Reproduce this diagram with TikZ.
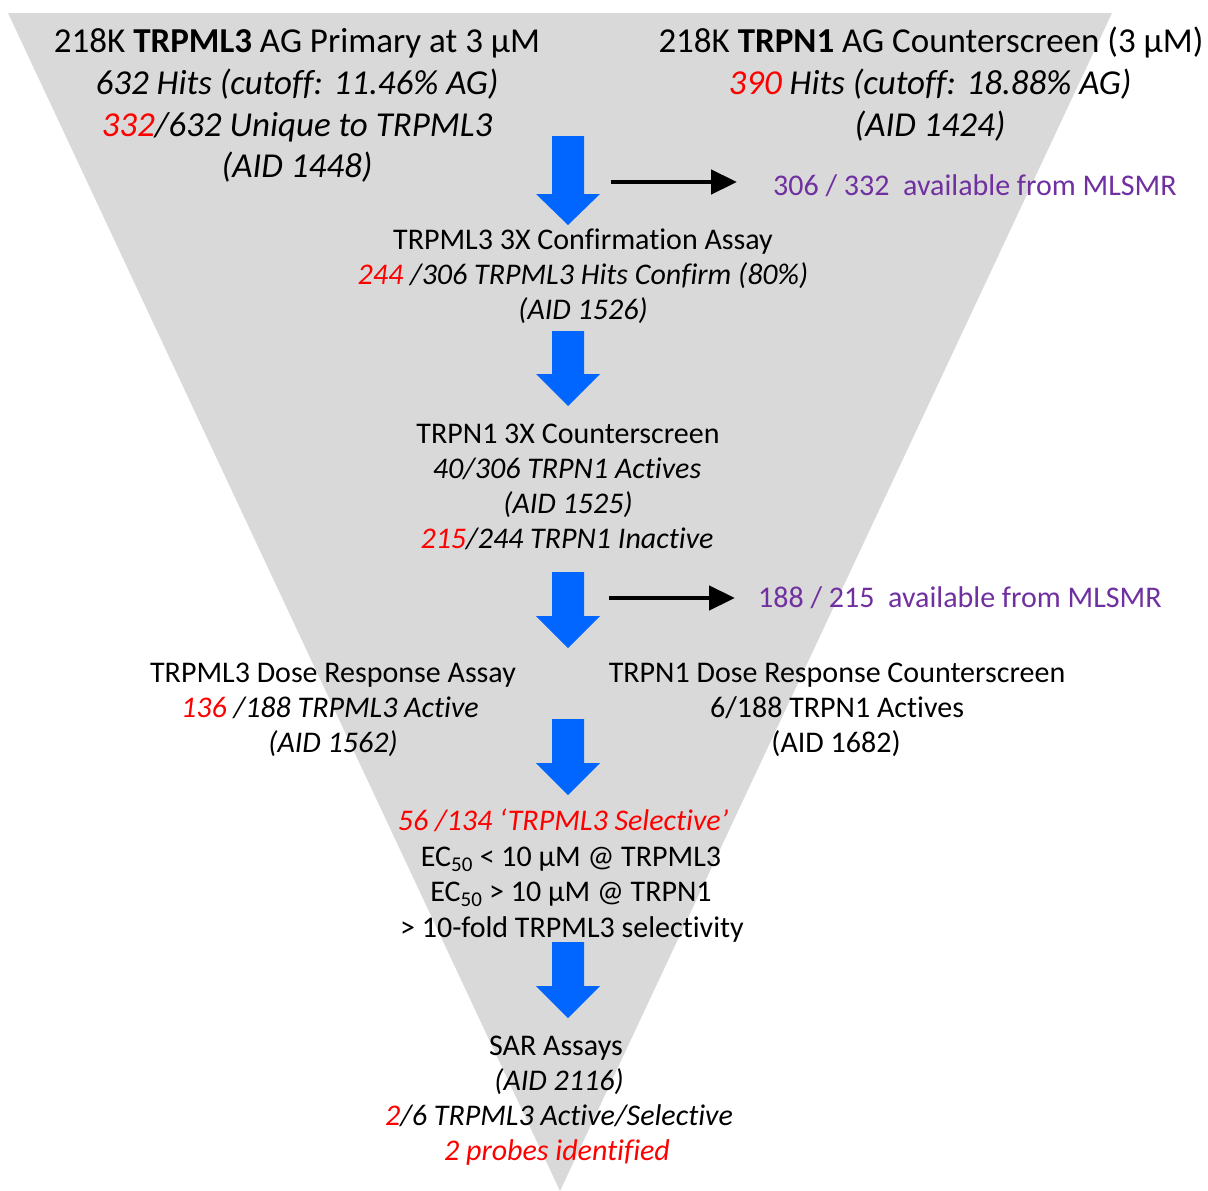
\documentclass[tikz,border=0pt]{standalone}
\usepackage{fontspec}
\setmainfont{Carlito}[Ligatures={TeX,NoCommon}]
\usetikzlibrary{arrows.meta}
\definecolor{funnelgray}{HTML}{D9D9D9}
\definecolor{fatblue}{HTML}{0066FF}
\definecolor{mlpurple}{HTML}{7030A0}
\definecolor{hitred}{HTML}{FF0000}
\newcommand\fatdown[4]{%
  \fill[fatblue] (#1-16,#2) -- (#1+16,#2) -- (#1+16,#3) -- (#1+32,#3) -- (#1,#4)
    -- (#1-32,#3) -- (#1-16,#3) -- cycle;}
\newcommand\hr[1]{{\color{hitred}#1}}
\tikzset{
  bigtxt/.style={anchor=base, inner sep=0pt, font=\fontsize{35}{41}\selectfont},
  midtxt/.style={anchor=base, inner sep=0pt, font=\fontsize{30}{35}\selectfont},
  purptxt/.style={anchor=base west, inner sep=0pt, text=mlpurple, font=\fontsize{30}{35}\selectfont},
  link/.style={line width=4.5pt, -{Triangle[length=26pt,width=24pt]}}
}
\begin{document}
\begin{tikzpicture}[x=1pt,y=-1pt]
\useasboundingbox (0,0) rectangle (1208,1191);
% funnel
\fill[funnelgray] (8,13) -- (1112,13) -- (560,1191) -- cycle;
% top left block
\node[bigtxt] (a1) at (297,52) {218K \textbf{TRPML3} AG Primary at 3 µM};
\node[bigtxt] (a2) at (297,94) {\itshape 632 Hits (cutoff: 11.46\% AG)};
\node[bigtxt] (a3) at (297,136) {\itshape \hr{332}/632 Unique to TRPML3};
\node[bigtxt] (a4) at (297,177) {\itshape (AID 1448)};
% top right block
\node[bigtxt] (b1) at (931,52) {218K \textbf{TRPN1} AG Counterscreen (3 µM)};
\node[bigtxt] (b2) at (930,94) {\itshape \hr{390} Hits (cutoff: 18.88\% AG)};
\node[bigtxt] (b3) at (930,136) {\itshape (AID 1424)};
% arrow 1 and side
\fatdown{568}{136}{194}{225}
\coordinate (s1) at (611,182);
\node[purptxt] (p1) at (773,195) {306 / 332\ \ available from MLSMR};
% confirmation
\node[midtxt] (c1) at (583,249) {TRPML3 3X Confirmation Assay};
\node[midtxt] (c2) at (583,284) {\itshape \hr{244} /306 TRPML3 Hits Confirm (80\%)};
\node[midtxt] (c3) at (583,319) {\itshape (AID 1526)};
\fatdown{568}{331}{374}{406}
% counterscreen
\node[midtxt] (d1) at (568,443) {TRPN1 3X Counterscreen};
\node[midtxt] (d2) at (567,478) {\itshape 40/306 TRPN1 Actives};
\node[midtxt] (d3) at (568,513) {\itshape (AID 1525)};
\node[midtxt] (d4) at (567,548) {\itshape \hr{215}/244 TRPN1 Inactive};
\fatdown{568}{572}{616}{648}
\coordinate (s2) at (609,598);
\node[purptxt] (p2) at (758,607) {188 / 215\ \ available from MLSMR};
% dose response
\node[midtxt] (e1) at (333,682) {TRPML3 Dose Response Assay};
\node[midtxt] (e2) at (330,717) {\itshape \hr{136} /188 TRPML3 Active};
\node[midtxt] (e3) at (333,752) {\itshape (AID 1562)};
\node[midtxt] (f1) at (837,682) {TRPN1 Dose Response Counterscreen};
\node[midtxt] (f2) at (837,717) {6/188 TRPN1 Actives};
\node[midtxt] (f3) at (836,752) {(AID 1682)};
\fatdown{568}{719}{763}{795}
% selective
\node[midtxt] (g1) at (563,830) {\itshape\color{hitred}56 /134 ‘TRPML3 Selective’};
\node[midtxt] (g2) at (571,866) {EC\textsubscript{50} < 10 µM @ TRPML3};
\node[midtxt] (g3) at (571,901) {EC\textsubscript{50} > 10 µM @ TRPN1};
\node[midtxt] (g4) at (572,937) {> 10-fold TRPML3 selectivity};
\fatdown{568}{942}{986}{1018}
% SAR
\node[midtxt] (h1) at (556,1055) {SAR Assays};
\node[midtxt] (h2) at (559,1090) {\itshape (AID 2116)};
\node[midtxt] (h3) at (559,1125) {\itshape \hr{2}/6 TRPML3 Active/Selective};
\node[midtxt] (h4) at (557,1160) {\itshape\color{hitred}2 probes identified};
% side arrows
\draw[link] (s1) -- ([xshift=-36pt]s1 -| p1.west);
\draw[link] (s2) -- ([xshift=-23pt]s2 -| p2.west);
\end{tikzpicture}
\end{document}
